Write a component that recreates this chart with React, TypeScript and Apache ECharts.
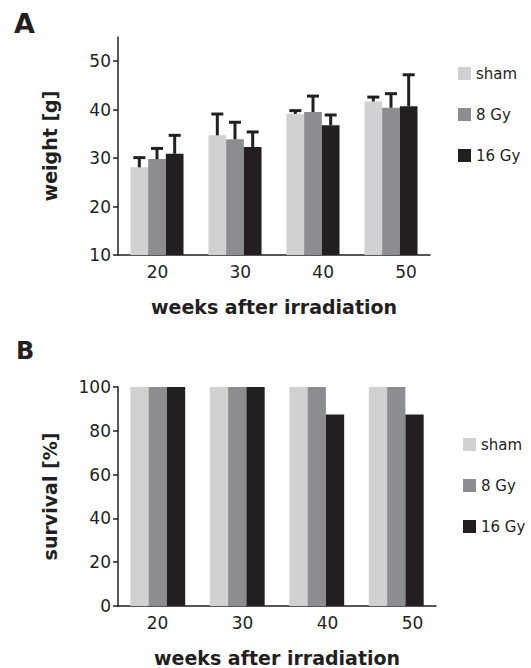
import React, { useEffect, useRef } from "react";
import * as echarts from "echarts";

const categories = ["20", "30", "40", "50"];
const seriesNames = ["sham", "8 Gy", "16 Gy"];
const seriesColors = ["#d0d1d3", "#8c8d90", "#231f20"];

const weightSham = [28.1, 34.7, 39.1, 41.7];
const weight8Gy = [29.8, 33.9, 39.5, 40.4];
const weight16Gy = [30.9, 32.3, 36.8, 40.7];
const sdSham = [2.0, 4.4, 0.7, 0.9];
const sd8Gy = [2.2, 3.5, 3.3, 2.9];
const sd16Gy = [3.8, 3.1, 2.1, 6.5];

const survivalSham = [100, 100, 100, 100];
const survival8Gy = [100, 100, 100, 100];
const survival16Gy = [100, 100, 87.5, 87.5];

const weightTicks = [10, 20, 30, 40, 50];
const survivalTicks = [0, 20, 40, 60, 80, 100];

const INK = "#231f20";
const FONT = "DejaVu Sans";
const GAP = 0.32;

export default function App() {
  const ref = useRef<HTMLDivElement>(null);
  useEffect(() => {
    document.body.style.margin = "0";
    const chart = echarts.init(ref.current!, null, { renderer: "svg" });
    const weights = [weightSham, weight8Gy, weight16Gy];
    const sds = [sdSham, sd8Gy, sd16Gy];
    const survival = [survivalSham, survival8Gy, survival16Gy];
    const weekNums = categories.map(Number);

    const errData: number[][] = [];
    weights.forEach((arr, s) =>
      arr.forEach((m, c) => errData.push([c, s, m, m + sds[s][c]]))
    );

    const catAxis = (gridIndex: number) => ({
      type: "category",
      gridIndex,
      data: categories,
      position: "bottom",
      axisLine: { show: true, lineStyle: { color: INK, width: 1.5 } },
      axisTick: { show: false },
      axisLabel: { show: false },
      splitLine: { show: false },
      name: "weeks after irradiation",
      nameLocation: "middle",
      nameGap: 42,
      nameTextStyle: { fontFamily: FONT, fontSize: 19, fontWeight: "bold", color: INK },
    });
    const labelAxis = (gridIndex: number, min: number, max: number) => ({
      type: "value",
      gridIndex,
      position: "bottom",
      min,
      max,
      axisLine: { show: false },
      axisTick: { show: false },
      splitLine: { show: false },
      axisLabel: {
        customValues: weekNums,
        fontFamily: FONT,
        fontSize: 17,
        color: INK,
        margin: 8,
      },
    });
    const valAxis = (gridIndex: number, min: number, max: number, ticks: number[], name: string) => ({
      type: "value",
      gridIndex,
      min,
      max,
      interval: 10,
      axisLine: { show: true, lineStyle: { color: INK, width: 1.5 } },
      axisTick: { show: true, length: 5, customValues: ticks, lineStyle: { color: INK, width: 1.5 } },
      axisLabel: { customValues: ticks, fontFamily: FONT, fontSize: 17, color: INK, margin: 7 },
      splitLine: { show: false },
      name,
      nameLocation: "middle",
      nameGap: 59,
      nameTextStyle: { fontFamily: FONT, fontSize: 19, fontWeight: "bold", color: INK },
    });

    const legend = (left: number, top: number) => ({
      orient: "vertical",
      left,
      top,
      padding: 0,
      icon: "rect",
      itemWidth: 13,
      itemHeight: 13,
      itemGap: 26,
      selectedMode: false,
      data: seriesNames,
      textStyle: { fontFamily: FONT, fontSize: 15, color: INK, lineHeight: 13 },
    });

    chart.setOption({
      animation: false,
      textStyle: { fontFamily: FONT },
      grid: [
        { left: 118, width: 312, top: 37, height: 218 },
        { left: 118, width: 318, top: 387, height: 220 },
      ],
      xAxis: [catAxis(0), catAxis(1), labelAxis(0, 15.231, 52.897), labelAxis(1, 15.353, 52.765)],
      yAxis: [
        valAxis(0, 10, 55, weightTicks, "weight [g]"),
        { ...valAxis(1, 0, 100, survivalTicks, "survival [%]"), interval: 20 },
      ],
      legend: [legend(458, 66), legend(463, 437)],
      graphic: [
        { type: "text", left: 14, top: 10, style: { text: "A", fontFamily: FONT, fontSize: 27, fontWeight: "bold", fill: INK } },
        { type: "text", left: 16, top: 339, style: { text: "B", fontFamily: FONT, fontSize: 24, fontWeight: "bold", fill: INK } },
      ],
      series: [
        ...seriesNames.map((name, s) => ({
          type: "bar",
          name,
          xAxisIndex: 0,
          yAxisIndex: 0,
          data: weights[s],
          barGap: "0%",
          barCategoryGap: GAP * 100 + "%",
          itemStyle: { color: seriesColors[s] },
        })),
        {
          type: "custom",
          name: "error",
          xAxisIndex: 0,
          yAxisIndex: 0,
          z: 5,
          encode: { x: 0, y: [2, 3] },
          data: errData,
          renderItem: (params: any, api: any) => {
            const c = api.value(0);
            const s = api.value(1);
            const m = api.value(2);
            const t = api.value(3);
            const band = api.size([1, 0])[0];
            const bw = (band * (1 - GAP)) / 3;
            const p0 = api.coord([c, m]);
            const p1 = api.coord([c, t]);
            const x = p0[0] + (s - 1) * bw;
            return {
              type: "group",
              children: [
                { type: "line", shape: { x1: x, y1: p0[1], x2: x, y2: p1[1] }, style: { stroke: INK, lineWidth: 3 } },
                { type: "line", shape: { x1: x - 6, y1: p1[1], x2: x + 6, y2: p1[1] }, style: { stroke: INK, lineWidth: 3 } },
              ],
            };
          },
        },
        ...seriesNames.map((name, s) => ({
          type: "bar",
          name,
          xAxisIndex: 1,
          yAxisIndex: 1,
          data: survival[s],
          barGap: "0%",
          barCategoryGap: "31%",
          itemStyle: { color: seriesColors[s] },
        })),
      ],
    });
    return () => chart.dispose();
  }, []);
  return <div ref={ref} style={{ width: 531, height: 668 }} />;
}
